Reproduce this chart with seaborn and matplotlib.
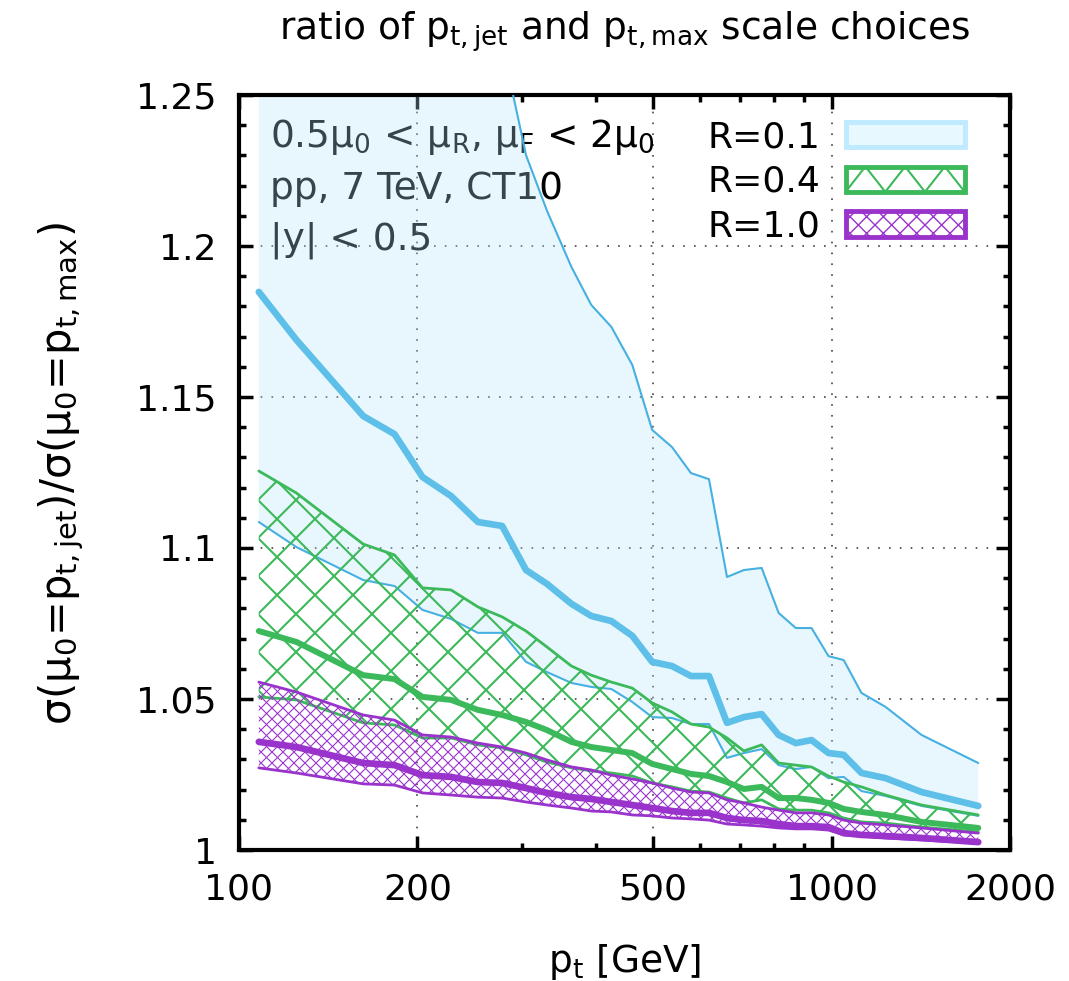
import numpy as np
import matplotlib
matplotlib.use("Agg")
import matplotlib.pyplot as plt
import seaborn as sns
from matplotlib.patches import Patch, Rectangle
from matplotlib.lines import Line2D
from matplotlib.collections import LineCollection
from matplotlib.legend_handler import HandlerBase
from matplotlib.ticker import FixedLocator, FuncFormatter, MultipleLocator, NullFormatter

# jet pt bins (GeV)
pt = [108, 125, 162, 183, 204, 228, 253, 278, 305, 331, 364, 393, 425, 461, 498,
      538, 579, 621, 666, 711, 762, 814, 870, 925, 988, 1048, 1123, 1233, 1418, 1768]

# R = 0.1 : lower edge, central, upper edge
r01_lo = [1.1086, 1.1003, 1.0894, 1.0874, 1.0795, 1.0765, 1.0719, 1.0719, 1.0623, 1.0589,
          1.0553, 1.0540, 1.0533, 1.0490, 1.0440, 1.0437, 1.0417, 1.0417, 1.0305, 1.0321,
          1.0334, 1.0281, 1.0268, 1.0275, 1.0238, 1.0242, 1.0195, 1.0179, 1.0146, 1.0113]
r01_mid = [1.1848, 1.1689, 1.1437, 1.1377, 1.1235, 1.1172, 1.1086, 1.1073, 1.0927, 1.0881,
           1.0815, 1.0775, 1.0758, 1.0709, 1.0623, 1.0609, 1.0576, 1.0576, 1.0421, 1.0440,
           1.0450, 1.0381, 1.0354, 1.0364, 1.0321, 1.0315, 1.0255, 1.0238, 1.0192, 1.0146]
r01_hi = [1.52, 1.48, 1.42, 1.39, 1.36, 1.33, 1.30, 1.267, 1.2301, 1.2116,
          1.1930, 1.1805, 1.1732, 1.1606, 1.1391, 1.1334, 1.1248, 1.1228, 1.0904, 1.0927,
          1.0934, 1.0785, 1.0735, 1.0735, 1.0642, 1.0629, 1.0520, 1.0474, 1.0381, 1.0288]

# R = 0.4
r04_lo = [1.0507, 1.0497, 1.0421, 1.0414, 1.0371, 1.0371, 1.0348, 1.0338, 1.0315, 1.0291,
          1.0272, 1.0262, 1.0255, 1.0245, 1.0222, 1.0209, 1.0195, 1.0192, 1.0172, 1.0156,
          1.0166, 1.0136, 1.0132, 1.0132, 1.0123, 1.0106, 1.0093, 1.0089, 1.0076, 1.0060]
r04_mid = [1.0725, 1.0689, 1.0579, 1.0566, 1.0507, 1.0497, 1.0464, 1.0447, 1.0424, 1.0397,
           1.0358, 1.0341, 1.0331, 1.0321, 1.0285, 1.0268, 1.0252, 1.0245, 1.0225, 1.0202,
           1.0209, 1.0172, 1.0172, 1.0166, 1.0156, 1.0136, 1.0126, 1.0116, 1.0093, 1.0073]
r04_hi = [1.1255, 1.1182, 1.1013, 1.0977, 1.0868, 1.0861, 1.0805, 1.0772, 1.0725, 1.0672,
          1.0609, 1.0579, 1.0556, 1.0536, 1.0487, 1.0457, 1.0417, 1.0407, 1.0371, 1.0328,
          1.0348, 1.0288, 1.0281, 1.0275, 1.0245, 1.0225, 1.0209, 1.0182, 1.0149, 1.0116]

# R = 1.0
r10_lo = [1.0272, 1.0255, 1.0219, 1.0215, 1.0189, 1.0182, 1.0175, 1.0172, 1.0159, 1.0149,
          1.0139, 1.0129, 1.0126, 1.0116, 1.0113, 1.0106, 1.0103, 1.0099, 1.0086, 1.0083,
          1.0079, 1.0073, 1.0070, 1.0070, 1.0066, 1.0050, 1.0046, 1.0040, 1.0033, 1.0023]
r10_mid = [1.0358, 1.0341, 1.0288, 1.0281, 1.0248, 1.0242, 1.0225, 1.0222, 1.0205, 1.0189,
           1.0175, 1.0169, 1.0159, 1.0149, 1.0139, 1.0129, 1.0123, 1.0123, 1.0106, 1.0099,
           1.0096, 1.0086, 1.0079, 1.0079, 1.0076, 1.0056, 1.0050, 1.0046, 1.0040, 1.0026]
r10_hi = [1.0556, 1.0523, 1.0447, 1.0430, 1.0381, 1.0374, 1.0354, 1.0341, 1.0321, 1.0298,
          1.0275, 1.0265, 1.0248, 1.0235, 1.0222, 1.0205, 1.0192, 1.0189, 1.0166, 1.0156,
          1.0142, 1.0132, 1.0123, 1.0123, 1.0116, 1.0099, 1.0089, 1.0083, 1.0073, 1.0056]

info_lines = [r"0.5μ$_0$ < μ$_R$, μ$_F$ < 2μ$_0$", "pp, 7 TeV, CT10", "|y| < 0.5"]

BLUE_EDGE = "#46b0e2"
BLUE_MID = "#5ec0e8"
BLUE_FILL = "#b3e6fa"
GREEN = "#3cb95a"
PURPLE = "#9933cc"


def cross_hatch(ax, band, step, color, lw, z):
    """ Diagonal cross-hatch (step in pixels) clipped to a fill_between band """
    w, h = ax.bbox.width, ax.bbox.height
    segs = []
    for c in np.arange(-w, h + w, step):
        segs.append([(0, c / h), (1, (c + w) / h)])
        segs.append([(0, c / h), (1, (c - w) / h)])
    lc = LineCollection(segs, colors=color, linewidths=lw, transform=ax.transAxes, zorder=z)
    lc.set_clip_path(band.get_paths()[0], ax.transData)
    ax.add_collection(lc, autolim=False)


class ZigzagHandler(HandlerBase):
    """ Legend box with a single zigzag, like the coarse hatch """
    def create_artists(self, legend, orig, xdescent, ydescent, width, height, fontsize, trans):
        col = orig.get_edgecolor()
        x0, y0 = -xdescent, -ydescent
        xs = np.linspace(x0, x0 + width, 7)
        ys = [y0 + height * (i % 2) for i in range(7)]
        zz = Line2D(xs, ys, color=col, linewidth=1.5, transform=trans)
        box = Rectangle((x0, y0), width, height, facecolor="none", edgecolor=col,
                        linewidth=orig.get_linewidth(), transform=trans)
        return [zz, box]


sns.set_style("ticks", {"axes.edgecolor": "black", "text.color": "black",
                        "xtick.color": "black", "ytick.color": "black",
                        "xtick.direction": "in", "ytick.direction": "in",
                        "xtick.top": True, "ytick.right": True})
plt.rcParams["font.family"] = ["DejaVu Sans"]
plt.rcParams["mathtext.default"] = "regular"
plt.rcParams["hatch.linewidth"] = 1.0

fig = plt.figure(figsize=(10.69, 9.81), dpi=100)
ax = fig.add_axes([239 / 1069, 1 - 850 / 981, 771 / 1069, 755 / 981])
ax.set_xscale("log")
ax.set_xlim(100, 2000)
ax.set_ylim(1, 1.25)

# info text sits under the translucent R=0.1 band
for i, s in enumerate(info_lines):
    ax.text(0.04, 0.945 - 0.069 * i, s, transform=ax.transAxes, fontsize=27,
            va="center", ha="left", zorder=1)

# R = 0.1
ax.fill_between(pt, r01_lo, r01_hi, facecolor=BLUE_FILL, alpha=0.3, edgecolor="none", zorder=2)
sns.lineplot(x=pt, y=r01_lo, ax=ax, color=BLUE_EDGE, linewidth=1.5, zorder=3)
sns.lineplot(x=pt, y=r01_hi, ax=ax, color=BLUE_EDGE, linewidth=1.5, zorder=3)
sns.lineplot(x=pt, y=r01_mid, ax=ax, color=BLUE_MID, linewidth=4.8, zorder=3)

# R = 0.4
band04 = ax.fill_between(pt, r04_lo, r04_hi, facecolor="none", edgecolor="none")
cross_hatch(ax, band04, 38, GREEN, 1.5, 4)
sns.lineplot(x=pt, y=r04_lo, ax=ax, color=GREEN, linewidth=2.0, zorder=4)
sns.lineplot(x=pt, y=r04_hi, ax=ax, color=GREEN, linewidth=2.0, zorder=4)
sns.lineplot(x=pt, y=r04_mid, ax=ax, color=GREEN, linewidth=4.3, zorder=4)

# R = 1.0
band10 = ax.fill_between(pt, r10_lo, r10_hi, facecolor="none", edgecolor="none")
cross_hatch(ax, band10, 11, PURPLE, 0.8, 5)
sns.lineplot(x=pt, y=r10_lo, ax=ax, color=PURPLE, linewidth=2.0, zorder=5)
sns.lineplot(x=pt, y=r10_hi, ax=ax, color=PURPLE, linewidth=2.0, zorder=5)
sns.lineplot(x=pt, y=r10_mid, ax=ax, color=PURPLE, linewidth=4.8, zorder=5)

# axes, ticks, grid
ax.xaxis.set_major_locator(FixedLocator([100, 200, 500, 1000, 2000]))
ax.xaxis.set_minor_locator(FixedLocator([300, 400, 600, 700, 800, 900]))
ax.xaxis.set_major_formatter(FuncFormatter(lambda v, p: f"{v:g}"))
ax.xaxis.set_minor_formatter(NullFormatter())
ax.yaxis.set_major_locator(MultipleLocator(0.05))
ax.yaxis.set_minor_locator(MultipleLocator(0.01))
ax.yaxis.set_major_formatter(FuncFormatter(lambda v, p: f"{v:g}"))
ax.tick_params(which="major", length=10, width=2.5, labelsize=26, pad=16)
ax.tick_params(which="minor", length=5, width=2.5)
for sp in ax.spines.values():
    sp.set_linewidth(3)
ax.grid(True, which="major", color="#444444", linestyle=(0, (1, 5.5)), linewidth=1.2)
ax.set_axisbelow(True)
ax.set_xlabel("")
ax.set_ylabel("")

handles = [
    Patch(facecolor="#e8f8ff", edgecolor="#bfeaff", linewidth=3.5, label="R=0.1"),
    Patch(facecolor="none", edgecolor=GREEN, linewidth=3.5, label="R=0.4"),
    Patch(facecolor="none", edgecolor=PURPLE, hatch="xx", linewidth=3.5, label="R=1.0"),
]
leg = ax.legend(handles=handles, loc="upper right", bbox_to_anchor=(0.96, 0.986),
                frameon=False, markerfirst=False, fontsize=26, handlelength=3.3,
                handleheight=0.7, labelspacing=0.3, handletextpad=0.7, borderaxespad=0,
                handler_map={handles[1]: ZigzagHandler()})
leg.set_zorder(10)

fig.text(625 / 1069, 1 - 32 / 981, r"ratio of p$_{t,jet}$ and p$_{t,max}$ scale choices",
         ha="center", va="center", fontsize=27)
fig.text(625 / 1069, 1 - 962 / 981, r"p$_t$ [GeV]", ha="center", va="center", fontsize=27)
fig.text(61 / 1069, 1 - 474 / 981, r"σ(μ$_0$=p$_{t,jet}$)/σ(μ$_0$=p$_{t,max}$)",
         ha="center", va="center", rotation=90, fontsize=30)

fig.savefig("out.png", dpi=100)
